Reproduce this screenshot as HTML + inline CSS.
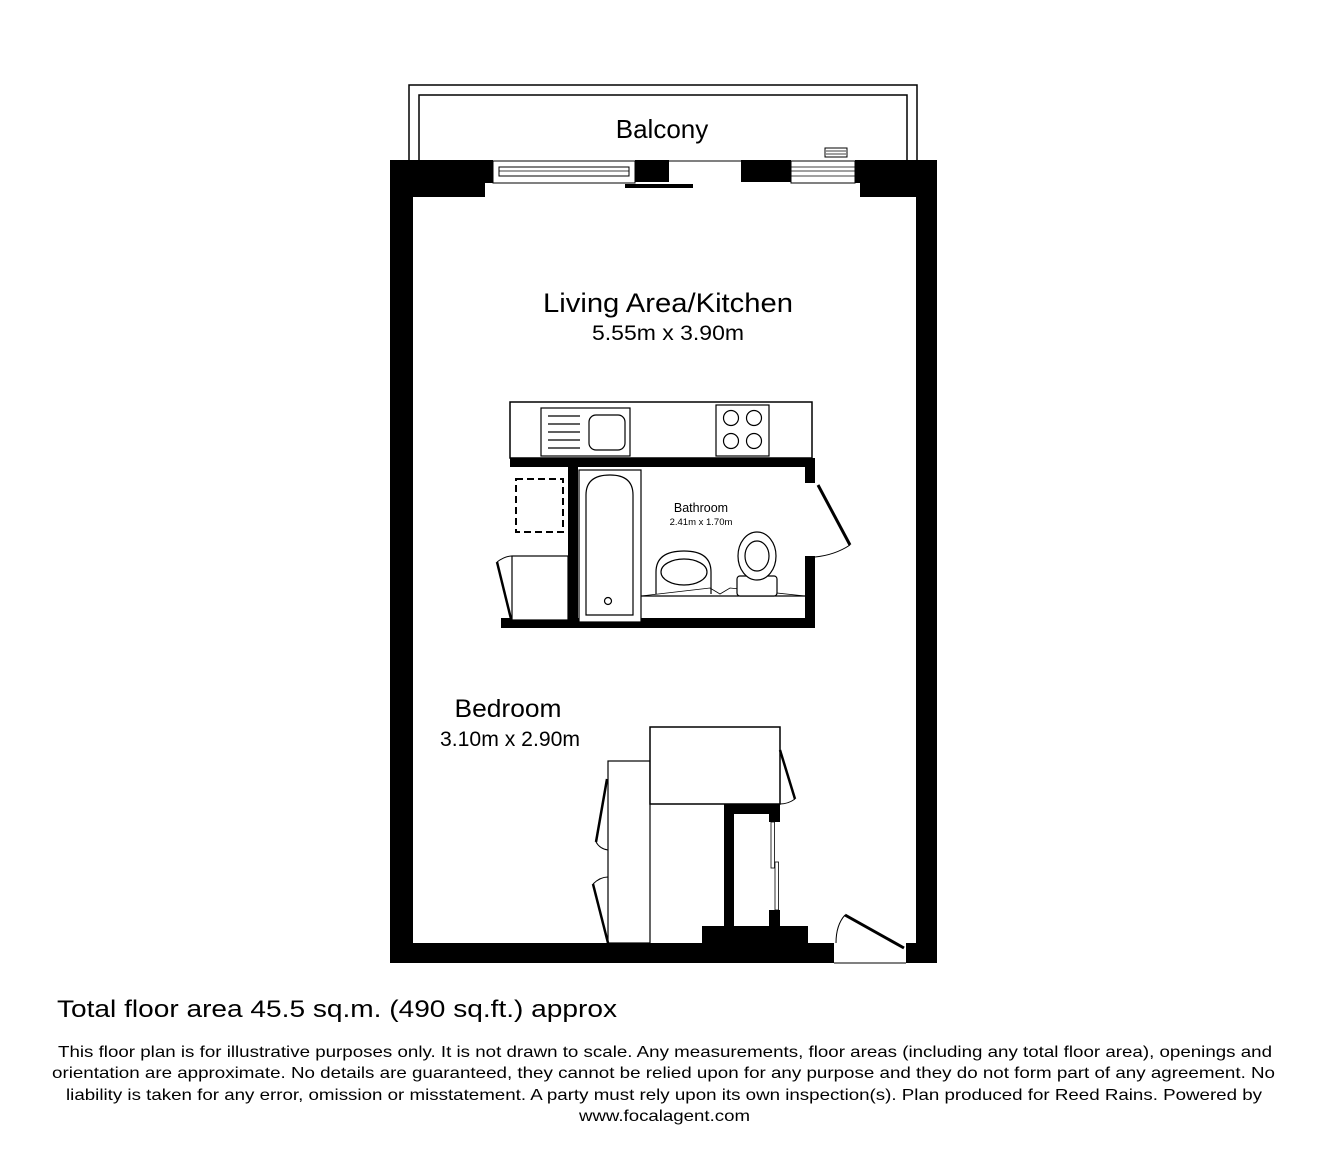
<!DOCTYPE html>
<html><head><meta charset="utf-8"><style>
html,body{margin:0;padding:0;background:#fff;}
svg{display:block;}
text{font-family:"Liberation Sans",Arial,sans-serif;fill:#000;}
</style></head><body>
<svg width="1328" height="1151" viewBox="0 0 1328 1151" xmlns="http://www.w3.org/2000/svg">
<rect width="1328" height="1151" fill="#fff"/>
<!-- Balcony -->
<path d="M409 160 V85 H917 V160" fill="none" stroke="#000" stroke-width="1.5"/>
<path d="M419 160 V95 H907 V160" fill="none" stroke="#000" stroke-width="1.5"/>
<line x1="669" y1="161" x2="741" y2="161" stroke="#000" stroke-width="1"/>
<text x="662" y="138" font-size="26" text-anchor="middle">Balcony</text>
<rect x="825" y="148" width="22" height="9" fill="#fff" stroke="#000" stroke-width="1"/>
<line x1="826" y1="151" x2="846" y2="151" stroke="#000" stroke-width="0.8"/>
<line x1="826" y1="154" x2="846" y2="154" stroke="#000" stroke-width="0.8"/>
<!-- Top walls -->
<path d="M390 160 H493 V183 H485 V197 H413 V963 H390 Z" fill="#000"/>
<path d="M855 160 H937 V963 H916 V197 H860 V183 H855 Z" fill="#000"/>
<rect x="635" y="160" width="34" height="22" fill="#000"/>
<rect x="741" y="160" width="50" height="22" fill="#000"/>
<rect x="625" y="184" width="68" height="4" fill="#000"/>
<!-- Windows -->
<rect x="493" y="161" width="142" height="22" fill="#fff" stroke="#000" stroke-width="1"/>
<rect x="499" y="167" width="130" height="9" fill="#fff" stroke="#000" stroke-width="1"/>
<line x1="499" y1="171" x2="629" y2="171" stroke="#000" stroke-width="0.8"/>
<rect x="791" y="161" width="64" height="22" fill="#fff" stroke="#000" stroke-width="1"/>
<line x1="791" y1="167" x2="855" y2="167" stroke="#000" stroke-width="0.8"/>
<line x1="791" y1="171" x2="855" y2="171" stroke="#000" stroke-width="0.8"/>
<line x1="791" y1="176" x2="855" y2="176" stroke="#000" stroke-width="0.8"/>
<!-- Bottom wall -->
<rect x="390" y="943" width="444" height="20" fill="#000"/>
<rect x="906" y="943" width="31" height="20" fill="#000"/>
<line x1="834" y1="963" x2="906" y2="963" stroke="#000" stroke-width="1"/>
<line x1="845" y1="915" x2="904" y2="948" stroke="#000" stroke-width="3"/>
<path d="M836 943 Q836 925 845 915" fill="none" stroke="#000" stroke-width="1"/>
<!-- Texts -->
<text x="668" y="312" font-size="27" text-anchor="middle" textLength="250" lengthAdjust="spacingAndGlyphs">Living Area/Kitchen</text>
<text x="668" y="340" font-size="21" text-anchor="middle" textLength="152" lengthAdjust="spacingAndGlyphs">5.55m x 3.90m</text>
<!-- Kitchen counter -->
<rect x="510" y="402" width="302" height="56" fill="#fff" stroke="#000" stroke-width="1.5"/>
<rect x="541" y="408" width="89" height="48" fill="#fff" stroke="#000" stroke-width="1.2"/>
<g stroke="#000" stroke-width="1.2">
<line x1="548" y1="416" x2="580" y2="416"/><line x1="548" y1="424" x2="580" y2="424"/>
<line x1="548" y1="432" x2="580" y2="432"/><line x1="548" y1="440" x2="580" y2="440"/>
<line x1="548" y1="448" x2="580" y2="448"/>
</g>
<rect x="589" y="415" width="36" height="35" rx="7" fill="#fff" stroke="#000" stroke-width="1.2"/>
<rect x="716" y="405" width="53" height="51" fill="#fff" stroke="#000" stroke-width="1.2"/>
<g fill="none" stroke="#000" stroke-width="1.2">
<circle cx="731" cy="418" r="7.5"/><circle cx="754" cy="418" r="7.5"/>
<circle cx="731" cy="441" r="7.5"/><circle cx="754" cy="441" r="7.5"/>
</g>
<!-- Bathroom walls -->
<rect x="510" y="458" width="305" height="9" fill="#000"/>
<rect x="568" y="458" width="10" height="170" fill="#000"/>
<rect x="501" y="618" width="314" height="10" fill="#000"/>
<rect x="805" y="458" width="10" height="25" fill="#000"/>
<rect x="805" y="556" width="10" height="72" fill="#000"/>
<line x1="818" y1="485" x2="850" y2="545" stroke="#000" stroke-width="3"/>
<path d="M850 545 Q835 555 815 557" fill="none" stroke="#000" stroke-width="1"/>
<!-- Bath -->
<rect x="579" y="470" width="62" height="152" fill="#fff" stroke="#000" stroke-width="1.2"/>
<path d="M586 615 V495 Q586 475 610 475 Q633 475 633 495 V615 Z" fill="#fff" stroke="#000" stroke-width="1.2"/>
<circle cx="608" cy="601" r="3.5" fill="none" stroke="#000" stroke-width="1.2"/>
<!-- Dashed square -->
<rect x="516" y="479" width="47" height="53" fill="none" stroke="#000" stroke-width="2" stroke-dasharray="7,4"/>
<!-- Left cupboard -->
<rect x="512" y="556" width="56" height="64" fill="#fff" stroke="#000" stroke-width="1.2"/>
<line x1="497" y1="562" x2="512" y2="623" stroke="#000" stroke-width="2.5"/>
<path d="M497 562 Q505 556 512 556" fill="none" stroke="#000" stroke-width="1"/>
<!-- Vanity/basin/toilet -->
<line x1="641" y1="596" x2="805" y2="596" stroke="#000" stroke-width="1.2"/>
<path d="M656 594 V572 Q656 551 684 551 Q711 551 711 572 V594" fill="#fff" stroke="#000" stroke-width="1.2"/>
<ellipse cx="684" cy="572" rx="23" ry="13" fill="none" stroke="#000" stroke-width="1.2"/>
<path d="M641 596 L710 588 L720 594 L730 588 L805 596" fill="none" stroke="#000" stroke-width="0.8"/>
<rect x="737" y="576" width="40" height="20" rx="3" fill="#fff" stroke="#000" stroke-width="1.2"/>
<ellipse cx="757" cy="556" rx="19" ry="24" fill="#fff" stroke="#000" stroke-width="1.2"/>
<ellipse cx="757" cy="556" rx="12" ry="15" fill="none" stroke="#000" stroke-width="1.2"/>
<text x="701" y="512" font-size="12.5" text-anchor="middle">Bathroom</text>
<text x="701" y="525" font-size="9.5" text-anchor="middle">2.41m x 1.70m</text>
<!-- Bedroom -->
<text x="508" y="717" font-size="25" text-anchor="middle" textLength="107" lengthAdjust="spacingAndGlyphs">Bedroom</text>
<text x="510" y="746" font-size="21" text-anchor="middle" textLength="140" lengthAdjust="spacingAndGlyphs">3.10m x 2.90m</text>
<!-- Wardrobes -->
<rect x="608" y="761" width="42" height="182" fill="#fff" stroke="#000" stroke-width="1.2"/>
<rect x="650" y="727" width="130" height="77" fill="#fff" stroke="#000" stroke-width="1.5"/>
<line x1="607" y1="779" x2="596" y2="842" stroke="#000" stroke-width="2.5"/>
<path d="M596 842 Q600 849 608 850" fill="none" stroke="#000" stroke-width="1"/>
<line x1="593" y1="884" x2="608" y2="943" stroke="#000" stroke-width="2.5"/>
<path d="M593 884 Q600 877 608 877" fill="none" stroke="#000" stroke-width="1"/>
<line x1="780" y1="750" x2="795" y2="799" stroke="#000" stroke-width="2.5"/>
<path d="M795 799 Q788 804 780 804" fill="none" stroke="#000" stroke-width="1"/>
<!-- Small cupboard -->
<rect x="724" y="804" width="56" height="10" fill="#000"/>
<rect x="724" y="804" width="10" height="126" fill="#000"/>
<rect x="769" y="804" width="11" height="18" fill="#000"/>
<rect x="769" y="910" width="11" height="18" fill="#000"/>
<rect x="771" y="822" width="3.5" height="46" fill="#fff" stroke="#000" stroke-width="0.8"/>
<rect x="775" y="862" width="3.5" height="48" fill="#fff" stroke="#000" stroke-width="0.8"/>
<rect x="702" y="926" width="106" height="18" fill="#000"/>
<!-- Footer -->
<text x="57" y="1017" font-size="24" textLength="560" lengthAdjust="spacingAndGlyphs">Total floor area 45.5 sq.m. (490 sq.ft.) approx</text>
<g font-size="16">
<text x="58" y="1057" textLength="1214" lengthAdjust="spacingAndGlyphs">This floor plan is for illustrative purposes only. It is not drawn to scale. Any measurements, floor areas (including any total floor area), openings and</text>
<text x="52" y="1078" textLength="1223" lengthAdjust="spacingAndGlyphs">orientation are approximate. No details are guaranteed, they cannot be relied upon for any purpose and they do not form part of any agreement. No</text>
<text x="66" y="1100" textLength="1196" lengthAdjust="spacingAndGlyphs">liability is taken for any error, omission or misstatement. A party must rely upon its own inspection(s). Plan produced for Reed Rains. Powered by</text>
<text x="579" y="1121" textLength="171" lengthAdjust="spacingAndGlyphs">www.focalagent.com</text>
</g>
</svg>
</body></html>
